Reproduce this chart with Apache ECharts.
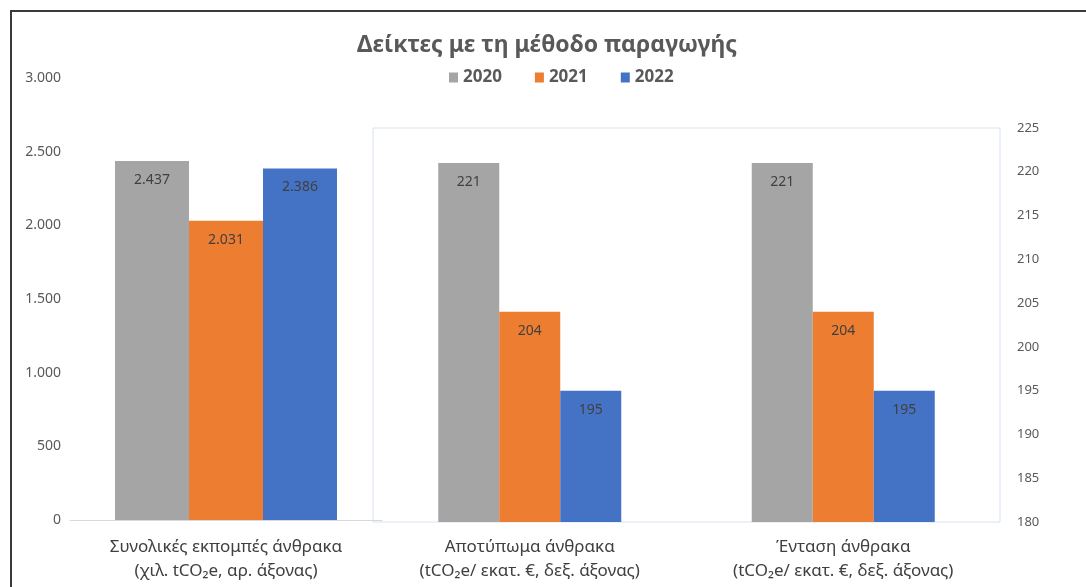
<!DOCTYPE html>
<html>
<head>
<meta charset="utf-8">
<title>Δείκτες με τη μέθοδο παραγωγής</title>
<script src="https://cdn.jsdelivr.net/npm/echarts@6/dist/echarts.min.js"></script>
<style>
  html, body { margin: 0; padding: 0; background: #fff; }
  #chart { width: 1086px; height: 587px; }
</style>
</head>
<body>
<div id="chart"></div>
<script>
// 数据
var years = ['2020', '2021', '2022'];
var colors = ['#a5a5a5', '#ed7d31', '#4472c4'];
// 左轴: 总排放 (千 tCO2e)
var leftCategories = ['Συνολικές εκπομπές άνθρακα\n(χιλ. tCO₂e, αρ. άξονας)'];
var leftValues = [[2437], [2031], [2386]]; // 每年一个数组
// 右轴: 碳足迹 / 碳强度
var rightCategories = [
  'Αποτύπωμα άνθρακα\n(tCO₂e/ εκατ. €, δεξ. άξονας)',
  'Ένταση άνθρακα\n(tCO₂e/ εκατ. €, δεξ. άξονας)'
];
var rightValues = [[221, 221], [204, 204], [195, 195]];
// 轴刻度
var leftAxisRange = [0, 3000, 500];
var rightAxisRange = [180, 225, 5];

var font = "'Noto Sans', 'Open Sans', sans-serif";
var textColor = '#595959';

// 千位用点分隔
function fmtThousands(v) {
  return String(v).replace(/\B(?=(\d{3})+(?!\d))/g, '.');
}

var chart = echarts.init(document.getElementById('chart'), null, { renderer: 'canvas' });

var series = [];
for (var i = 0; i < years.length; i++) {
  series.push({
    name: years[i],
    type: 'bar',
    xAxisIndex: 0,
    yAxisIndex: 0,
    barWidth: 74,
    barGap: '0%',
    data: leftValues[i],
    itemStyle: { color: colors[i] },
    label: {
      show: true,
      position: 'insideTop',
      distance: 12,
      color: '#404040',
      fontFamily: font,
      fontSize: 14,
      formatter: function (p) { return fmtThousands(p.value); }
    }
  });
  series.push({
    name: years[i],
    type: 'bar',
    xAxisIndex: 1,
    yAxisIndex: 1,
    barWidth: 61,
    barGap: '0%',
    data: rightValues[i],
    itemStyle: { color: colors[i] },
    label: {
      show: true,
      position: 'insideTop',
      distance: 12,
      color: '#404040',
      fontFamily: font,
      fontSize: 14
    }
  });
}

var option = {
  backgroundColor: '#fff',
  animation: false,
  title: {
    text: 'Δείκτες με τη μέθοδο παραγωγής',
    left: 352,
    top: 29,
    textStyle: { color: textColor, fontFamily: font, fontSize: 23, fontWeight: 'bold' }
  },
  legend: {
    data: years,
    top: 64,
    left: 444,
    itemWidth: 9,
    itemHeight: 10,
    itemGap: 33,
    icon: 'rect',
    textStyle: { color: textColor, fontFamily: font, fontSize: 17, fontWeight: 'bold' }
  },
  graphic: [{
    // 外框
    type: 'rect',
    shape: { x: 11, y: 11, width: 1100, height: 620 },
    style: { fill: 'none', stroke: '#3a3a3a', lineWidth: 2 },
    z: 100
  }],
  grid: [
    { left: 70, top: 78, width: 312, height: 442 },
    {
      left: 373, top: 128, width: 627, height: 394,
      show: true, backgroundColor: '#fff', borderColor: '#d6e0f2', borderWidth: 1
    }
  ],
  xAxis: [
    {
      type: 'category',
      gridIndex: 0,
      data: leftCategories,
      axisLine: { lineStyle: { color: '#d9d9d9' } },
      axisTick: { show: false },
      axisLabel: {
        color: '#404040', fontFamily: font, fontSize: 17,
        lineHeight: 24, margin: 15
      }
    },
    {
      type: 'category',
      gridIndex: 1,
      data: rightCategories,
      axisLine: { show: false },
      axisTick: { show: false },
      axisLabel: {
        color: '#404040', fontFamily: font, fontSize: 17,
        lineHeight: 24, margin: 13
      }
    }
  ],
  yAxis: [
    {
      type: 'value',
      gridIndex: 0,
      min: leftAxisRange[0],
      max: leftAxisRange[1],
      interval: leftAxisRange[2],
      splitLine: { show: false },
      axisLine: { show: false },
      axisTick: { show: false },
      axisLabel: {
        color: textColor, fontFamily: font, fontSize: 14, margin: 9,
        formatter: function (v) { return fmtThousands(v); }
      }
    },
    {
      type: 'value',
      gridIndex: 1,
      position: 'right',
      min: rightAxisRange[0],
      max: rightAxisRange[1],
      interval: rightAxisRange[2],
      splitLine: { show: false },
      axisLine: { show: false },
      axisTick: { show: false },
      axisLabel: { color: textColor, fontFamily: font, fontSize: 13, margin: 17 }
    }
  ],
  series: series
};

chart.setOption(option);
</script>
</body>
</html>
